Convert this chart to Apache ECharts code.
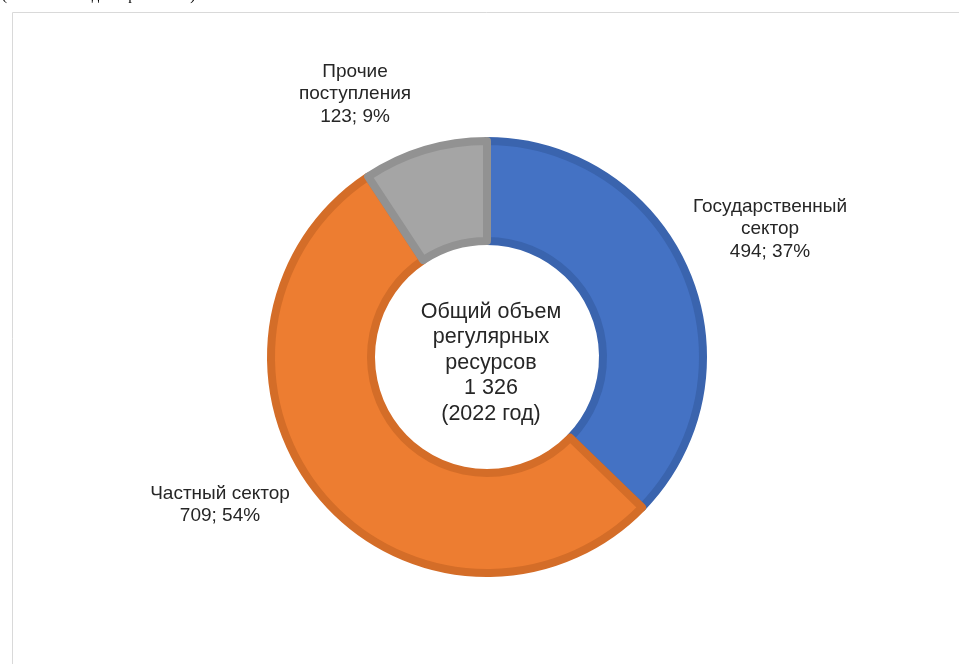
<!DOCTYPE html>
<html>
<head>
<meta charset="utf-8">
<script src="https://cdn.jsdelivr.net/npm/echarts@6/dist/echarts.min.js"></script>
<style>
  html, body { margin: 0; padding: 0; background: #fff; }
  #chart { width: 959px; height: 664px; }
</style>
</head>
<body>
<div id="chart"></div>
<script>
// данные
const categories = ['Государственный\nсектор', 'Частный сектор', 'Прочие\nпоступления'];
const values = [494, 709, 123];
const shares = [37, 54, 9];
const total = '1 326';
const centerText = ['Общий объем', 'регулярных', 'ресурсов', total, '(2022 год)'];

const fills = ['#4472C4', '#ED7D31', '#A5A5A5'];
const borders = ['#3A64AE', '#D46D28', '#929292'];
// где стоят подписи (центр текста)
const labelPos = [[770, 229], [220, 505], [355, 94]];

const chart = echarts.init(document.getElementById('chart'));

chart.setOption({
  animation: false,
  graphic: [
    {
      type: 'rect',
      shape: { x: 12.5, y: 12.5, width: 980, height: 700 },
      style: { fill: 'none', stroke: '#d9d9d9', lineWidth: 1 }
    },
    {
      type: 'text',
      left: 2, top: -11,
      style: { text: '(в миллионах долларов США)', font: '15px "Liberation Serif"', fill: '#000' }
    }
  ],
  series: [{
    type: 'pie',
    center: [487, 357],
    radius: [116, 216],
    startAngle: 90,
    clockwise: true,
    data: categories.map((c, i) => ({
      name: c,
      value: values[i],
      itemStyle: { color: fills[i], borderColor: borders[i], borderWidth: 8 }
    })),
    label: {
      show: true,
      position: 'outside',
      formatter: p => p.name + '\n' + p.value + '; ' + shares[p.dataIndex] + '%',
      fontFamily: 'Liberation Sans',
      fontSize: 19,
      lineHeight: 22.5,
      color: '#262626',
      align: 'center',
      verticalAlign: 'middle'
    },
    labelLine: { show: false },
    labelLayout: p => ({ x: labelPos[p.dataIndex][0], y: labelPos[p.dataIndex][1], align: 'center', verticalAlign: 'middle' }),
    emphasis: { disabled: true }
  }],
  title: {
    text: centerText.join('\n'),
    left: 486, top: 358,
    textAlign: 'center',
    textVerticalAlign: 'middle',
    textStyle: {
      fontFamily: 'Liberation Sans',
      fontSize: 21.5,
      lineHeight: 25.5,
      fontWeight: 'normal',
      color: '#262626'
    }
  }
});
</script>
</body>
</html>
